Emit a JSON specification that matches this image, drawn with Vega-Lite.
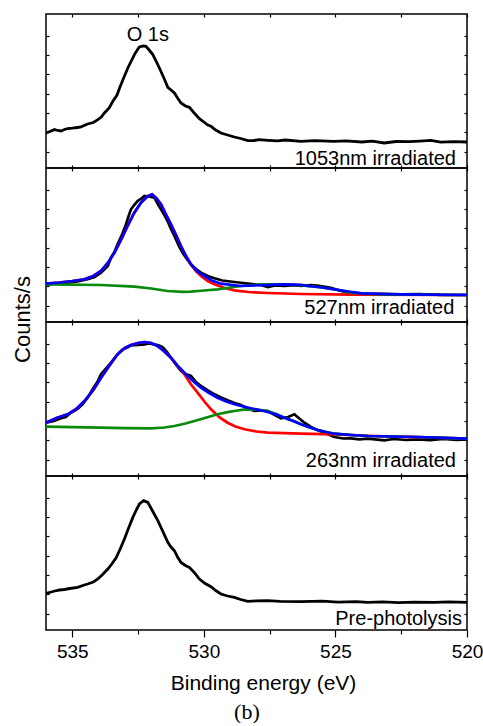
{
  "$schema": "https://vega.github.io/schema/vega-lite/v6.json",
  "padding": {"left": 10, "top": 12, "right": 0, "bottom": 0},
  "background": "white",
  "spacing": 0,
  "bounds": "flush",
  "config": {
    "view": {"stroke": "black", "strokeWidth": 1.5},
    "font": "Liberation Sans",
    "axis": {"domain": false, "grid": false, "tickColor": "black", "tickWidth": 1.2, "labelColor": "black", "titleColor": "black", "titleFontWeight": "normal"}
  },
  "title": {"text": "(b)", "orient": "bottom", "font": "Liberation Serif", "fontSize": 22, "fontWeight": "normal", "color": "black", "anchor": "middle", "offset": 8},
  "datasets": {
    "spectra": [
      {"p": "1053", "s": "data", "E": 536, "c": 35},
      {"p": "1053", "s": "data", "E": 535.85, "c": 36.5},
      {"p": "1053", "s": "data", "E": 535.68, "c": 38.4},
      {"p": "1053", "s": "data", "E": 535.55, "c": 37.5},
      {"p": "1053", "s": "data", "E": 535.43, "c": 37},
      {"p": "1053", "s": "data", "E": 535.3, "c": 38.5},
      {"p": "1053", "s": "data", "E": 535.18, "c": 39.4},
      {"p": "1053", "s": "data", "E": 535.0, "c": 39.8},
      {"p": "1053", "s": "data", "E": 534.8, "c": 40.5},
      {"p": "1053", "s": "data", "E": 534.67, "c": 41},
      {"p": "1053", "s": "data", "E": 534.55, "c": 42.5},
      {"p": "1053", "s": "data", "E": 534.42, "c": 44},
      {"p": "1053", "s": "data", "E": 534.2, "c": 45.5},
      {"p": "1053", "s": "data", "E": 534.03, "c": 48.4},
      {"p": "1053", "s": "data", "E": 533.9, "c": 51},
      {"p": "1053", "s": "data", "E": 533.78, "c": 55},
      {"p": "1053", "s": "data", "E": 533.6, "c": 60},
      {"p": "1053", "s": "data", "E": 533.46, "c": 66.7},
      {"p": "1053", "s": "data", "E": 533.3, "c": 73},
      {"p": "1053", "s": "data", "E": 533.21, "c": 79.4},
      {"p": "1053", "s": "data", "E": 533.05, "c": 90},
      {"p": "1053", "s": "data", "E": 532.89, "c": 100},
      {"p": "1053", "s": "data", "E": 532.75, "c": 107.5},
      {"p": "1053", "s": "data", "E": 532.64, "c": 113.4},
      {"p": "1053", "s": "data", "E": 532.52, "c": 118.5},
      {"p": "1053", "s": "data", "E": 532.45, "c": 121},
      {"p": "1053", "s": "data", "E": 532.3, "c": 122},
      {"p": "1053", "s": "data", "E": 532.2, "c": 121.7},
      {"p": "1053", "s": "data", "E": 532.08, "c": 118},
      {"p": "1053", "s": "data", "E": 531.94, "c": 113.4},
      {"p": "1053", "s": "data", "E": 531.8, "c": 106},
      {"p": "1053", "s": "data", "E": 531.69, "c": 100},
      {"p": "1053", "s": "data", "E": 531.52, "c": 90},
      {"p": "1053", "s": "data", "E": 531.37, "c": 80.7},
      {"p": "1053", "s": "data", "E": 531.25, "c": 78},
      {"p": "1053", "s": "data", "E": 531.12, "c": 75},
      {"p": "1053", "s": "data", "E": 531.0, "c": 70},
      {"p": "1053", "s": "data", "E": 530.87, "c": 65},
      {"p": "1053", "s": "data", "E": 530.7, "c": 62},
      {"p": "1053", "s": "data", "E": 530.55, "c": 60.7},
      {"p": "1053", "s": "data", "E": 530.4, "c": 56},
      {"p": "1053", "s": "data", "E": 530.17, "c": 49.4},
      {"p": "1053", "s": "data", "E": 530.0, "c": 46},
      {"p": "1053", "s": "data", "E": 529.85, "c": 43},
      {"p": "1053", "s": "data", "E": 529.73, "c": 41.7},
      {"p": "1053", "s": "data", "E": 529.55, "c": 38},
      {"p": "1053", "s": "data", "E": 529.35, "c": 35},
      {"p": "1053", "s": "data", "E": 529.1, "c": 33},
      {"p": "1053", "s": "data", "E": 528.84, "c": 31},
      {"p": "1053", "s": "data", "E": 528.6, "c": 29.5},
      {"p": "1053", "s": "data", "E": 528.33, "c": 27.4},
      {"p": "1053", "s": "data", "E": 528.1, "c": 27.5},
      {"p": "1053", "s": "data", "E": 527.9, "c": 28.3},
      {"p": "1053", "s": "data", "E": 527.57, "c": 27.7},
      {"p": "1053", "s": "data", "E": 527.2, "c": 27.2},
      {"p": "1053", "s": "data", "E": 526.9, "c": 28},
      {"p": "1053", "s": "data", "E": 526.31, "c": 26.7},
      {"p": "1053", "s": "data", "E": 525.8, "c": 27.3},
      {"p": "1053", "s": "data", "E": 525.05, "c": 26.7},
      {"p": "1053", "s": "data", "E": 524.6, "c": 27.2},
      {"p": "1053", "s": "data", "E": 524.0, "c": 26},
      {"p": "1053", "s": "data", "E": 523.6, "c": 26.8},
      {"p": "1053", "s": "data", "E": 523.15, "c": 25},
      {"p": "1053", "s": "data", "E": 522.7, "c": 26.5},
      {"p": "1053", "s": "data", "E": 522.2, "c": 26.3},
      {"p": "1053", "s": "data", "E": 521.8, "c": 26.9},
      {"p": "1053", "s": "data", "E": 521.37, "c": 27.6},
      {"p": "1053", "s": "data", "E": 521.0, "c": 25.8},
      {"p": "1053", "s": "data", "E": 520.5, "c": 26.4},
      {"p": "1053", "s": "data", "E": 520, "c": 26},

      {"p": "527", "s": "data", "E": 536, "c": 37.7},
      {"p": "527", "s": "data", "E": 535.5, "c": 38.6},
      {"p": "527", "s": "data", "E": 535.18, "c": 39.3},
      {"p": "527", "s": "data", "E": 534.8, "c": 40.5},
      {"p": "527", "s": "data", "E": 534.42, "c": 42.7},
      {"p": "527", "s": "data", "E": 534.15, "c": 45},
      {"p": "527", "s": "data", "E": 533.91, "c": 49.3},
      {"p": "527", "s": "data", "E": 533.65, "c": 56},
      {"p": "527", "s": "data", "E": 533.53, "c": 64.3},
      {"p": "527", "s": "data", "E": 533.4, "c": 70},
      {"p": "527", "s": "data", "E": 533.28, "c": 77.7},
      {"p": "527", "s": "data", "E": 533.1, "c": 88},
      {"p": "527", "s": "data", "E": 532.96, "c": 97.7},
      {"p": "527", "s": "data", "E": 532.86, "c": 106},
      {"p": "527", "s": "data", "E": 532.77, "c": 112.7},
      {"p": "527", "s": "data", "E": 532.65, "c": 117},
      {"p": "527", "s": "data", "E": 532.52, "c": 121},
      {"p": "527", "s": "data", "E": 532.35, "c": 124},
      {"p": "527", "s": "data", "E": 532.26, "c": 126},
      {"p": "527", "s": "data", "E": 532.1, "c": 125.5},
      {"p": "527", "s": "data", "E": 531.88, "c": 124.3},
      {"p": "527", "s": "data", "E": 531.75, "c": 118},
      {"p": "527", "s": "data", "E": 531.63, "c": 112.7},
      {"p": "527", "s": "data", "E": 531.5, "c": 107},
      {"p": "527", "s": "data", "E": 531.38, "c": 101},
      {"p": "527", "s": "data", "E": 531.25, "c": 93},
      {"p": "527", "s": "data", "E": 531.12, "c": 86},
      {"p": "527", "s": "data", "E": 530.95, "c": 76},
      {"p": "527", "s": "data", "E": 530.81, "c": 69.3},
      {"p": "527", "s": "data", "E": 530.65, "c": 63},
      {"p": "527", "s": "data", "E": 530.49, "c": 57.7},
      {"p": "527", "s": "data", "E": 530.3, "c": 53},
      {"p": "527", "s": "data", "E": 530.11, "c": 49.3},
      {"p": "527", "s": "data", "E": 529.85, "c": 46},
      {"p": "527", "s": "data", "E": 529.6, "c": 43.7},
      {"p": "527", "s": "data", "E": 529.3, "c": 41.5},
      {"p": "527", "s": "data", "E": 528.84, "c": 40},
      {"p": "527", "s": "data", "E": 528.5, "c": 39},
      {"p": "527", "s": "data", "E": 528.08, "c": 37.7},
      {"p": "527", "s": "data", "E": 527.8, "c": 36.8},
      {"p": "527", "s": "data", "E": 527.57, "c": 35},
      {"p": "527", "s": "data", "E": 527.3, "c": 36.5},
      {"p": "527", "s": "data", "E": 526.94, "c": 36},
      {"p": "527", "s": "data", "E": 526.6, "c": 36.8},
      {"p": "527", "s": "data", "E": 526.3, "c": 36},
      {"p": "527", "s": "data", "E": 525.93, "c": 37},
      {"p": "527", "s": "data", "E": 525.7, "c": 36.4},
      {"p": "527", "s": "data", "E": 525.45, "c": 35.5},
      {"p": "527", "s": "data", "E": 525.17, "c": 34.3},
      {"p": "527", "s": "data", "E": 524.85, "c": 31.5},
      {"p": "527", "s": "data", "E": 524.53, "c": 29.3},
      {"p": "527", "s": "data", "E": 524.2, "c": 28.8},
      {"p": "527", "s": "data", "E": 523.77, "c": 28.3},
      {"p": "527", "s": "data", "E": 523.3, "c": 28.1},
      {"p": "527", "s": "data", "E": 522.51, "c": 27.7},
      {"p": "527", "s": "data", "E": 521.8, "c": 27.9},
      {"p": "527", "s": "data", "E": 521.0, "c": 27.2},
      {"p": "527", "s": "data", "E": 520, "c": 27},

      {"p": "527", "s": "peak1", "E": 536, "c": 38.3},
      {"p": "527", "s": "peak1", "E": 535.5, "c": 39.5},
      {"p": "527", "s": "peak1", "E": 535.0, "c": 41},
      {"p": "527", "s": "peak1", "E": 534.54, "c": 42.7},
      {"p": "527", "s": "peak1", "E": 534.2, "c": 46},
      {"p": "527", "s": "peak1", "E": 533.91, "c": 51},
      {"p": "527", "s": "peak1", "E": 533.65, "c": 59},
      {"p": "527", "s": "peak1", "E": 533.4, "c": 69.3},
      {"p": "527", "s": "peak1", "E": 533.15, "c": 82},
      {"p": "527", "s": "peak1", "E": 532.9, "c": 96},
      {"p": "527", "s": "peak1", "E": 532.65, "c": 109},
      {"p": "527", "s": "peak1", "E": 532.39, "c": 119.3},
      {"p": "527", "s": "peak1", "E": 532.15, "c": 125.5},
      {"p": "527", "s": "peak1", "E": 531.97, "c": 127.7},
      {"p": "527", "s": "peak1", "E": 531.8, "c": 123.5},
      {"p": "527", "s": "peak1", "E": 531.63, "c": 117.7},
      {"p": "527", "s": "peak1", "E": 531.45, "c": 108},
      {"p": "527", "s": "peak1", "E": 531.25, "c": 97.7},
      {"p": "527", "s": "peak1", "E": 531.05, "c": 86.5},
      {"p": "527", "s": "peak1", "E": 530.87, "c": 76},
      {"p": "527", "s": "peak1", "E": 530.68, "c": 66},
      {"p": "527", "s": "peak1", "E": 530.49, "c": 57},
      {"p": "527", "s": "peak1", "E": 530.3, "c": 51},
      {"p": "527", "s": "peak1", "E": 530.11, "c": 46},
      {"p": "527", "s": "peak1", "E": 529.85, "c": 41},
      {"p": "527", "s": "peak1", "E": 529.6, "c": 37.7},
      {"p": "527", "s": "peak1", "E": 529.2, "c": 34},
      {"p": "527", "s": "peak1", "E": 528.84, "c": 31.7},
      {"p": "527", "s": "peak1", "E": 528.3, "c": 30},
      {"p": "527", "s": "peak1", "E": 527.57, "c": 29},
      {"p": "527", "s": "peak1", "E": 526.31, "c": 28},
      {"p": "527", "s": "peak1", "E": 524.41, "c": 27.3},
      {"p": "527", "s": "peak1", "E": 520, "c": 27},

      {"p": "527", "s": "peak2", "E": 536, "c": 37.7},
      {"p": "527", "s": "peak2", "E": 533.91, "c": 37},
      {"p": "527", "s": "peak2", "E": 532.64, "c": 35.3},
      {"p": "527", "s": "peak2", "E": 532.0, "c": 33.5},
      {"p": "527", "s": "peak2", "E": 531.38, "c": 31},
      {"p": "527", "s": "peak2", "E": 530.8, "c": 30.2},
      {"p": "527", "s": "peak2", "E": 530.49, "c": 30.3},
      {"p": "527", "s": "peak2", "E": 530.0, "c": 31.5},
      {"p": "527", "s": "peak2", "E": 529.48, "c": 32.7},
      {"p": "527", "s": "peak2", "E": 529.0, "c": 34.5},
      {"p": "527", "s": "peak2", "E": 528.59, "c": 36},
      {"p": "527", "s": "peak2", "E": 528.0, "c": 37.3},
      {"p": "527", "s": "peak2", "E": 527.57, "c": 37.7},
      {"p": "527", "s": "peak2", "E": 526.81, "c": 37.7},
      {"p": "527", "s": "peak2", "E": 526.3, "c": 36.6},
      {"p": "527", "s": "peak2", "E": 525.67, "c": 35},
      {"p": "527", "s": "peak2", "E": 525.0, "c": 32.5},
      {"p": "527", "s": "peak2", "E": 524.41, "c": 29.3},
      {"p": "527", "s": "peak2", "E": 523.8, "c": 28.2},
      {"p": "527", "s": "peak2", "E": 523.14, "c": 27.7},
      {"p": "527", "s": "peak2", "E": 520, "c": 27},

      {"p": "527", "s": "fit", "E": 536, "c": 38.3},
      {"p": "527", "s": "fit", "E": 535.5, "c": 39.5},
      {"p": "527", "s": "fit", "E": 535.0, "c": 41},
      {"p": "527", "s": "fit", "E": 534.54, "c": 42.7},
      {"p": "527", "s": "fit", "E": 534.2, "c": 46},
      {"p": "527", "s": "fit", "E": 533.91, "c": 51},
      {"p": "527", "s": "fit", "E": 533.65, "c": 59},
      {"p": "527", "s": "fit", "E": 533.4, "c": 69.3},
      {"p": "527", "s": "fit", "E": 533.15, "c": 82},
      {"p": "527", "s": "fit", "E": 532.9, "c": 96},
      {"p": "527", "s": "fit", "E": 532.65, "c": 109},
      {"p": "527", "s": "fit", "E": 532.39, "c": 119.3},
      {"p": "527", "s": "fit", "E": 532.15, "c": 125.5},
      {"p": "527", "s": "fit", "E": 531.97, "c": 127.7},
      {"p": "527", "s": "fit", "E": 531.8, "c": 123.5},
      {"p": "527", "s": "fit", "E": 531.63, "c": 117.7},
      {"p": "527", "s": "fit", "E": 531.45, "c": 108},
      {"p": "527", "s": "fit", "E": 531.25, "c": 97.7},
      {"p": "527", "s": "fit", "E": 531.05, "c": 86.5},
      {"p": "527", "s": "fit", "E": 530.87, "c": 76},
      {"p": "527", "s": "fit", "E": 530.68, "c": 66},
      {"p": "527", "s": "fit", "E": 530.49, "c": 57.7},
      {"p": "527", "s": "fit", "E": 530.25, "c": 50.5},
      {"p": "527", "s": "fit", "E": 529.98, "c": 46},
      {"p": "527", "s": "fit", "E": 529.7, "c": 41.5},
      {"p": "527", "s": "fit", "E": 529.35, "c": 38.3},
      {"p": "527", "s": "fit", "E": 528.6, "c": 36},
      {"p": "527", "s": "fit", "E": 527.57, "c": 37},
      {"p": "527", "s": "fit", "E": 526.94, "c": 37.7},
      {"p": "527", "s": "fit", "E": 526.3, "c": 37.2},
      {"p": "527", "s": "fit", "E": 526.05, "c": 36},
      {"p": "527", "s": "fit", "E": 525.5, "c": 34.5},
      {"p": "527", "s": "fit", "E": 525.04, "c": 32.7},
      {"p": "527", "s": "fit", "E": 524.5, "c": 30.5},
      {"p": "527", "s": "fit", "E": 524.03, "c": 28.7},
      {"p": "527", "s": "fit", "E": 523.0, "c": 27.9},
      {"p": "527", "s": "fit", "E": 522.51, "c": 27.7},
      {"p": "527", "s": "fit", "E": 520, "c": 27},

      {"p": "263", "s": "data", "E": 536, "c": 53.3},
      {"p": "263", "s": "data", "E": 535.7, "c": 55},
      {"p": "263", "s": "data", "E": 535.43, "c": 57.7},
      {"p": "263", "s": "data", "E": 535.25, "c": 59},
      {"p": "263", "s": "data", "E": 535.05, "c": 63.3},
      {"p": "263", "s": "data", "E": 534.8, "c": 67},
      {"p": "263", "s": "data", "E": 534.61, "c": 71.7},
      {"p": "263", "s": "data", "E": 534.4, "c": 79},
      {"p": "263", "s": "data", "E": 534.23, "c": 86.7},
      {"p": "263", "s": "data", "E": 534.05, "c": 94},
      {"p": "263", "s": "data", "E": 533.91, "c": 101.7},
      {"p": "263", "s": "data", "E": 533.7, "c": 108},
      {"p": "263", "s": "data", "E": 533.53, "c": 113.3},
      {"p": "263", "s": "data", "E": 533.3, "c": 121},
      {"p": "263", "s": "data", "E": 533.09, "c": 126.7},
      {"p": "263", "s": "data", "E": 532.9, "c": 128.5},
      {"p": "263", "s": "data", "E": 532.77, "c": 130.7},
      {"p": "263", "s": "data", "E": 532.5, "c": 131},
      {"p": "263", "s": "data", "E": 532.26, "c": 131.7},
      {"p": "263", "s": "data", "E": 532.1, "c": 132.5},
      {"p": "263", "s": "data", "E": 531.88, "c": 131.7},
      {"p": "263", "s": "data", "E": 531.7, "c": 130.5},
      {"p": "263", "s": "data", "E": 531.57, "c": 129},
      {"p": "263", "s": "data", "E": 531.4, "c": 124},
      {"p": "263", "s": "data", "E": 531.25, "c": 118.3},
      {"p": "263", "s": "data", "E": 531.05, "c": 111},
      {"p": "263", "s": "data", "E": 530.87, "c": 105},
      {"p": "263", "s": "data", "E": 530.7, "c": 102},
      {"p": "263", "s": "data", "E": 530.49, "c": 100},
      {"p": "263", "s": "data", "E": 530.3, "c": 94},
      {"p": "263", "s": "data", "E": 530.11, "c": 90},
      {"p": "263", "s": "data", "E": 529.85, "c": 85.5},
      {"p": "263", "s": "data", "E": 529.6, "c": 81.7},
      {"p": "263", "s": "data", "E": 529.35, "c": 78.5},
      {"p": "263", "s": "data", "E": 529.1, "c": 75.7},
      {"p": "263", "s": "data", "E": 528.84, "c": 73},
      {"p": "263", "s": "data", "E": 528.59, "c": 71},
      {"p": "263", "s": "data", "E": 528.3, "c": 67},
      {"p": "263", "s": "data", "E": 528.08, "c": 65},
      {"p": "263", "s": "data", "E": 527.8, "c": 65.5},
      {"p": "263", "s": "data", "E": 527.57, "c": 65},
      {"p": "263", "s": "data", "E": 527.3, "c": 61},
      {"p": "263", "s": "data", "E": 527.07, "c": 57.7},
      {"p": "263", "s": "data", "E": 526.8, "c": 59},
      {"p": "263", "s": "data", "E": 526.56, "c": 61.7},
      {"p": "263", "s": "data", "E": 526.35, "c": 57},
      {"p": "263", "s": "data", "E": 526.18, "c": 53.3},
      {"p": "263", "s": "data", "E": 525.93, "c": 49},
      {"p": "263", "s": "data", "E": 525.67, "c": 45.7},
      {"p": "263", "s": "data", "E": 525.3, "c": 42},
      {"p": "263", "s": "data", "E": 525.04, "c": 39},
      {"p": "263", "s": "data", "E": 524.7, "c": 37.5},
      {"p": "263", "s": "data", "E": 524.41, "c": 37.7},
      {"p": "263", "s": "data", "E": 524.1, "c": 36.6},
      {"p": "263", "s": "data", "E": 523.77, "c": 37.4},
      {"p": "263", "s": "data", "E": 523.14, "c": 35.7},
      {"p": "263", "s": "data", "E": 522.8, "c": 37},
      {"p": "263", "s": "data", "E": 522.3, "c": 36},
      {"p": "263", "s": "data", "E": 521.87, "c": 36.7},
      {"p": "263", "s": "data", "E": 521.4, "c": 35.8},
      {"p": "263", "s": "data", "E": 520.9, "c": 37},
      {"p": "263", "s": "data", "E": 520.4, "c": 36},
      {"p": "263", "s": "data", "E": 520, "c": 36.7},

      {"p": "263", "s": "peak1", "E": 536, "c": 53.3},
      {"p": "263", "s": "peak1", "E": 535.6, "c": 58},
      {"p": "263", "s": "peak1", "E": 535.18, "c": 61.7},
      {"p": "263", "s": "peak1", "E": 534.85, "c": 67},
      {"p": "263", "s": "peak1", "E": 534.54, "c": 75},
      {"p": "263", "s": "peak1", "E": 534.2, "c": 86},
      {"p": "263", "s": "peak1", "E": 533.91, "c": 98.3},
      {"p": "263", "s": "peak1", "E": 533.6, "c": 110},
      {"p": "263", "s": "peak1", "E": 533.28, "c": 121.7},
      {"p": "263", "s": "peak1", "E": 533.0, "c": 128},
      {"p": "263", "s": "peak1", "E": 532.77, "c": 131},
      {"p": "263", "s": "peak1", "E": 532.5, "c": 133},
      {"p": "263", "s": "peak1", "E": 532.26, "c": 134},
      {"p": "263", "s": "peak1", "E": 532.0, "c": 133},
      {"p": "263", "s": "peak1", "E": 531.76, "c": 130},
      {"p": "263", "s": "peak1", "E": 531.5, "c": 124.5},
      {"p": "263", "s": "peak1", "E": 531.25, "c": 118.3},
      {"p": "263", "s": "peak1", "E": 531.0, "c": 110},
      {"p": "263", "s": "peak1", "E": 530.74, "c": 101.7},
      {"p": "263", "s": "peak1", "E": 530.5, "c": 92},
      {"p": "263", "s": "peak1", "E": 530.24, "c": 83.3},
      {"p": "263", "s": "peak1", "E": 529.98, "c": 74.5},
      {"p": "263", "s": "peak1", "E": 529.73, "c": 66.7},
      {"p": "263", "s": "peak1", "E": 529.4, "c": 58.5},
      {"p": "263", "s": "peak1", "E": 529.1, "c": 53.3},
      {"p": "263", "s": "peak1", "E": 528.8, "c": 49.5},
      {"p": "263", "s": "peak1", "E": 528.46, "c": 46.7},
      {"p": "263", "s": "peak1", "E": 528.0, "c": 44.5},
      {"p": "263", "s": "peak1", "E": 527.57, "c": 43.3},
      {"p": "263", "s": "peak1", "E": 526.31, "c": 42.3},
      {"p": "263", "s": "peak1", "E": 525.04, "c": 41.7},
      {"p": "263", "s": "peak1", "E": 523.5, "c": 40},
      {"p": "263", "s": "peak1", "E": 522, "c": 38.8},
      {"p": "263", "s": "peak1", "E": 520, "c": 37.3},

      {"p": "263", "s": "peak2", "E": 536, "c": 49.3},
      {"p": "263", "s": "peak2", "E": 534.5, "c": 48.6},
      {"p": "263", "s": "peak2", "E": 533.91, "c": 48.3},
      {"p": "263", "s": "peak2", "E": 533.0, "c": 47.8},
      {"p": "263", "s": "peak2", "E": 532.01, "c": 47.7},
      {"p": "263", "s": "peak2", "E": 531.5, "c": 48.5},
      {"p": "263", "s": "peak2", "E": 531.12, "c": 50},
      {"p": "263", "s": "peak2", "E": 530.7, "c": 52.5},
      {"p": "263", "s": "peak2", "E": 530.36, "c": 55},
      {"p": "263", "s": "peak2", "E": 529.9, "c": 58.5},
      {"p": "263", "s": "peak2", "E": 529.48, "c": 61.7},
      {"p": "263", "s": "peak2", "E": 529.1, "c": 63.8},
      {"p": "263", "s": "peak2", "E": 528.84, "c": 65},
      {"p": "263", "s": "peak2", "E": 528.5, "c": 66.3},
      {"p": "263", "s": "peak2", "E": 528.21, "c": 66.7},
      {"p": "263", "s": "peak2", "E": 527.9, "c": 66.2},
      {"p": "263", "s": "peak2", "E": 527.57, "c": 65},
      {"p": "263", "s": "peak2", "E": 527.25, "c": 62},
      {"p": "263", "s": "peak2", "E": 526.94, "c": 58.3},
      {"p": "263", "s": "peak2", "E": 526.6, "c": 55},
      {"p": "263", "s": "peak2", "E": 526.31, "c": 51.7},
      {"p": "263", "s": "peak2", "E": 526.0, "c": 48.8},
      {"p": "263", "s": "peak2", "E": 525.67, "c": 46},
      {"p": "263", "s": "peak2", "E": 525.35, "c": 44},
      {"p": "263", "s": "peak2", "E": 525.04, "c": 42.3},
      {"p": "263", "s": "peak2", "E": 524.4, "c": 41},
      {"p": "263", "s": "peak2", "E": 523.77, "c": 40},
      {"p": "263", "s": "peak2", "E": 522.8, "c": 39.5},
      {"p": "263", "s": "peak2", "E": 521.87, "c": 39},
      {"p": "263", "s": "peak2", "E": 520.9, "c": 38.2},
      {"p": "263", "s": "peak2", "E": 520, "c": 37.3},

      {"p": "263", "s": "fit", "E": 536, "c": 53.3},
      {"p": "263", "s": "fit", "E": 535.6, "c": 58},
      {"p": "263", "s": "fit", "E": 535.18, "c": 61.7},
      {"p": "263", "s": "fit", "E": 534.85, "c": 67},
      {"p": "263", "s": "fit", "E": 534.54, "c": 75},
      {"p": "263", "s": "fit", "E": 534.2, "c": 86},
      {"p": "263", "s": "fit", "E": 533.91, "c": 98.3},
      {"p": "263", "s": "fit", "E": 533.6, "c": 110},
      {"p": "263", "s": "fit", "E": 533.28, "c": 121.7},
      {"p": "263", "s": "fit", "E": 533.0, "c": 128},
      {"p": "263", "s": "fit", "E": 532.77, "c": 131},
      {"p": "263", "s": "fit", "E": 532.5, "c": 133},
      {"p": "263", "s": "fit", "E": 532.26, "c": 134},
      {"p": "263", "s": "fit", "E": 532.0, "c": 133},
      {"p": "263", "s": "fit", "E": 531.76, "c": 130},
      {"p": "263", "s": "fit", "E": 531.5, "c": 124.5},
      {"p": "263", "s": "fit", "E": 531.25, "c": 118.3},
      {"p": "263", "s": "fit", "E": 530.95, "c": 109},
      {"p": "263", "s": "fit", "E": 530.62, "c": 100},
      {"p": "263", "s": "fit", "E": 530.35, "c": 93.5},
      {"p": "263", "s": "fit", "E": 530.11, "c": 88.3},
      {"p": "263", "s": "fit", "E": 529.8, "c": 83},
      {"p": "263", "s": "fit", "E": 529.48, "c": 78.3},
      {"p": "263", "s": "fit", "E": 529.15, "c": 74.5},
      {"p": "263", "s": "fit", "E": 528.84, "c": 71.7},
      {"p": "263", "s": "fit", "E": 528.5, "c": 69.5},
      {"p": "263", "s": "fit", "E": 528.21, "c": 67.7},
      {"p": "263", "s": "fit", "E": 527.9, "c": 66},
      {"p": "263", "s": "fit", "E": 527.57, "c": 64},
      {"p": "263", "s": "fit", "E": 527.25, "c": 61.5},
      {"p": "263", "s": "fit", "E": 526.94, "c": 58.3},
      {"p": "263", "s": "fit", "E": 526.6, "c": 55},
      {"p": "263", "s": "fit", "E": 526.31, "c": 51.7},
      {"p": "263", "s": "fit", "E": 526.0, "c": 48.8},
      {"p": "263", "s": "fit", "E": 525.67, "c": 46},
      {"p": "263", "s": "fit", "E": 525.35, "c": 44},
      {"p": "263", "s": "fit", "E": 525.04, "c": 42.3},
      {"p": "263", "s": "fit", "E": 524.4, "c": 41},
      {"p": "263", "s": "fit", "E": 523.77, "c": 40},
      {"p": "263", "s": "fit", "E": 522.8, "c": 39.5},
      {"p": "263", "s": "fit", "E": 521.87, "c": 39},
      {"p": "263", "s": "fit", "E": 520.9, "c": 38.2},
      {"p": "263", "s": "fit", "E": 520, "c": 37.3},

      {"p": "pre", "s": "data", "E": 536, "c": 36.6},
      {"p": "pre", "s": "data", "E": 535.8, "c": 38},
      {"p": "pre", "s": "data", "E": 535.6, "c": 39.5},
      {"p": "pre", "s": "data", "E": 535.49, "c": 40},
      {"p": "pre", "s": "data", "E": 535.3, "c": 40.5},
      {"p": "pre", "s": "data", "E": 535.1, "c": 41.5},
      {"p": "pre", "s": "data", "E": 534.8, "c": 42.6},
      {"p": "pre", "s": "data", "E": 534.6, "c": 44.5},
      {"p": "pre", "s": "data", "E": 534.42, "c": 46},
      {"p": "pre", "s": "data", "E": 534.2, "c": 48},
      {"p": "pre", "s": "data", "E": 534.03, "c": 51},
      {"p": "pre", "s": "data", "E": 533.85, "c": 55.5},
      {"p": "pre", "s": "data", "E": 533.65, "c": 61},
      {"p": "pre", "s": "data", "E": 533.5, "c": 66},
      {"p": "pre", "s": "data", "E": 533.34, "c": 72},
      {"p": "pre", "s": "data", "E": 533.18, "c": 81},
      {"p": "pre", "s": "data", "E": 533.02, "c": 91},
      {"p": "pre", "s": "data", "E": 532.86, "c": 102},
      {"p": "pre", "s": "data", "E": 532.7, "c": 112.6},
      {"p": "pre", "s": "data", "E": 532.55, "c": 121},
      {"p": "pre", "s": "data", "E": 532.45, "c": 126},
      {"p": "pre", "s": "data", "E": 532.29, "c": 129.3},
      {"p": "pre", "s": "data", "E": 532.13, "c": 127.6},
      {"p": "pre", "s": "data", "E": 531.95, "c": 119},
      {"p": "pre", "s": "data", "E": 531.75, "c": 109.3},
      {"p": "pre", "s": "data", "E": 531.55, "c": 98},
      {"p": "pre", "s": "data", "E": 531.37, "c": 87.6},
      {"p": "pre", "s": "data", "E": 531.25, "c": 83},
      {"p": "pre", "s": "data", "E": 531.12, "c": 79.3},
      {"p": "pre", "s": "data", "E": 531.0, "c": 73},
      {"p": "pre", "s": "data", "E": 530.87, "c": 67.6},
      {"p": "pre", "s": "data", "E": 530.7, "c": 64.5},
      {"p": "pre", "s": "data", "E": 530.55, "c": 62.6},
      {"p": "pre", "s": "data", "E": 530.35, "c": 57},
      {"p": "pre", "s": "data", "E": 530.17, "c": 51},
      {"p": "pre", "s": "data", "E": 529.95, "c": 46.5},
      {"p": "pre", "s": "data", "E": 529.73, "c": 43.3},
      {"p": "pre", "s": "data", "E": 529.55, "c": 39.5},
      {"p": "pre", "s": "data", "E": 529.35, "c": 36},
      {"p": "pre", "s": "data", "E": 529.1, "c": 34},
      {"p": "pre", "s": "data", "E": 528.84, "c": 32.6},
      {"p": "pre", "s": "data", "E": 528.6, "c": 30.5},
      {"p": "pre", "s": "data", "E": 528.33, "c": 28.6},
      {"p": "pre", "s": "data", "E": 528.0, "c": 29.2},
      {"p": "pre", "s": "data", "E": 527.57, "c": 29.3},
      {"p": "pre", "s": "data", "E": 527.1, "c": 28.6},
      {"p": "pre", "s": "data", "E": 526.31, "c": 28.3},
      {"p": "pre", "s": "data", "E": 525.5, "c": 28.8},
      {"p": "pre", "s": "data", "E": 524.9, "c": 27.8},
      {"p": "pre", "s": "data", "E": 524.2, "c": 28.4},
      {"p": "pre", "s": "data", "E": 523.77, "c": 27.6},
      {"p": "pre", "s": "data", "E": 523.2, "c": 28.2},
      {"p": "pre", "s": "data", "E": 522.6, "c": 27.3},
      {"p": "pre", "s": "data", "E": 522.0, "c": 27.9},
      {"p": "pre", "s": "data", "E": 521.24, "c": 27.6},
      {"p": "pre", "s": "data", "E": 520.7, "c": 28.2},
      {"p": "pre", "s": "data", "E": 520, "c": 27.6}
    ]
  },
  "vconcat": [
    {
      "width": 421, "height": 154,
      "data": {"name": "spectra"},
      "transform": [{"filter": "datum.p === '1053'"}],
      "layer": [
        {
          "mark": {"type": "line", "strokeWidth": 2.8},
          "encoding": {
            "x": {"field": "E", "type": "quantitative", "scale": {"domain": [520, 536], "reverse": true, "nice": false, "zero": false},
                  "axis": {"orient": "bottom", "values": [535, 532.5, 530, 527.5, 525, 522.5, 520], "tickSize": -3, "labels": false, "title": null}},
            "y": {"field": "c", "type": "quantitative", "scale": {"domain": [0, 154], "nice": false, "zero": false},
                  "axis": {"orient": "left", "values": [16.5, 35.8, 55.1, 74.4, 93.7, 113, 132.3], "tickSize": -3, "labels": false, "title": null}},
            "color": {"field": "s", "type": "nominal", "scale": {"domain": ["data", "peak1", "peak2", "fit"], "range": ["#000000", "#ff0000", "#0a8a0a", "#0000ff"]}, "legend": null}
          }
        },
        {
          "data": {"values": [{}]},
          "mark": {"type": "text", "align": "right", "baseline": "alphabetic", "fontSize": 20, "color": "black"},
          "encoding": {
            "x": {"datum": 520.42, "type": "quantitative", "axis": {"orient": "top", "values": [535, 532.5, 530, 527.5, 525, 522.5, 520], "tickSize": -3, "labels": false, "title": null}},
            "y": {"datum": 3.5, "type": "quantitative", "axis": {"orient": "right", "values": [16.5, 35.8, 55.1, 74.4, 93.7, 113, 132.3], "tickSize": -3, "labels": false, "title": null}},
            "text": {"value": "1053nm irradiated"}
          }
        },
        {
          "data": {"values": [{}]},
          "mark": {"type": "text", "align": "center", "baseline": "alphabetic", "fontSize": 20, "color": "black"},
          "encoding": {
            "x": {"datum": 532.13, "type": "quantitative", "axis": null},
            "y": {"datum": 127.4, "type": "quantitative", "axis": null},
            "text": {"value": "O 1s"}
          }
        }
      ],
      "resolve": {"axis": {"x": "independent", "y": "independent"}}
    },
    {
      "width": 421, "height": 154,
      "data": {"name": "spectra"},
      "transform": [{"filter": "datum.p === '527'"}],
      "layer": [
        {
          "mark": {"type": "line", "strokeWidth": 2.7},
          "encoding": {
            "x": {"field": "E", "type": "quantitative", "scale": {"domain": [520, 536], "reverse": true, "nice": false, "zero": false},
                  "axis": {"orient": "bottom", "values": [535, 532.5, 530, 527.5, 525, 522.5, 520], "tickSize": -3, "labels": false, "title": null}},
            "y": {"field": "c", "type": "quantitative", "scale": {"domain": [0, 154], "nice": false, "zero": false},
                  "axis": {"orient": "left", "values": [16.5, 35.8, 55.1, 74.4, 93.7, 113, 132.3], "tickSize": -3, "labels": false, "title": "Counts/s", "titleFontSize": 22, "titleX": -12, "titleY": 151}},
            "color": {"field": "s", "type": "nominal", "scale": {"domain": ["data", "peak1", "peak2", "fit"], "range": ["#000000", "#ff0000", "#0a8a0a", "#0000ff"]}, "legend": null}
          }
        },
        {
          "data": {"values": [{}]},
          "mark": {"type": "text", "align": "right", "baseline": "alphabetic", "fontSize": 20, "color": "black"},
          "encoding": {
            "x": {"datum": 520.48, "type": "quantitative", "axis": {"orient": "top", "values": [535, 532.5, 530, 527.5, 525, 522.5, 520], "tickSize": -3, "labels": false, "title": null}},
            "y": {"datum": 7.7, "type": "quantitative", "axis": {"orient": "right", "values": [16.5, 35.8, 55.1, 74.4, 93.7, 113, 132.3], "tickSize": -3, "labels": false, "title": null}},
            "text": {"value": "527nm irradiated"}
          }
        }
      ],
      "resolve": {"axis": {"x": "independent", "y": "independent"}}
    },
    {
      "width": 421, "height": 154,
      "data": {"name": "spectra"},
      "transform": [{"filter": "datum.p === '263'"}],
      "layer": [
        {
          "mark": {"type": "line", "strokeWidth": 2.7},
          "encoding": {
            "x": {"field": "E", "type": "quantitative", "scale": {"domain": [520, 536], "reverse": true, "nice": false, "zero": false},
                  "axis": {"orient": "bottom", "values": [535, 532.5, 530, 527.5, 525, 522.5, 520], "tickSize": -3, "labels": false, "title": null}},
            "y": {"field": "c", "type": "quantitative", "scale": {"domain": [0, 154], "nice": false, "zero": false},
                  "axis": {"orient": "left", "values": [16.5, 35.8, 55.1, 74.4, 93.7, 113, 132.3], "tickSize": -3, "labels": false, "title": null}},
            "color": {"field": "s", "type": "nominal", "scale": {"domain": ["data", "peak1", "peak2", "fit"], "range": ["#000000", "#ff0000", "#0a8a0a", "#0000ff"]}, "legend": null}
          }
        },
        {
          "data": {"values": [{}]},
          "mark": {"type": "text", "align": "right", "baseline": "alphabetic", "fontSize": 20, "color": "black"},
          "encoding": {
            "x": {"datum": 520.42, "type": "quantitative", "axis": {"orient": "top", "values": [535, 532.5, 530, 527.5, 525, 522.5, 520], "tickSize": -3, "labels": false, "title": null}},
            "y": {"datum": 9, "type": "quantitative", "axis": {"orient": "right", "values": [16.5, 35.8, 55.1, 74.4, 93.7, 113, 132.3], "tickSize": -3, "labels": false, "title": null}},
            "text": {"value": "263nm irradiated"}
          }
        }
      ],
      "resolve": {"axis": {"x": "independent", "y": "independent"}}
    },
    {
      "width": 421, "height": 154,
      "data": {"name": "spectra"},
      "transform": [{"filter": "datum.p === 'pre'"}],
      "layer": [
        {
          "mark": {"type": "line", "strokeWidth": 2.8},
          "encoding": {
            "x": {"field": "E", "type": "quantitative", "scale": {"domain": [520, 536], "reverse": true, "nice": false, "zero": false},
                  "axis": {"orient": "bottom", "values": [535, 532.5, 530, 527.5, 525, 522.5, 520], "format": "d",
                           "labelExpr": "datum.value % 5 === 0 ? datum.label : ''",
                           "tickSize": {"condition": {"test": "datum.value % 5 === 0", "value": 7}, "value": 4},
                           "labelFontSize": 19, "labelPadding": 5, "labelFlush": false,
                           "title": "Binding energy (eV)", "titleFontSize": 21, "titlePadding": 11, "titleX": 217}},
            "y": {"field": "c", "type": "quantitative", "scale": {"domain": [0, 154], "nice": false, "zero": false},
                  "axis": {"orient": "left", "values": [16.5, 35.8, 55.1, 74.4, 93.7, 113, 132.3], "tickSize": -3, "labels": false, "title": null}},
            "color": {"field": "s", "type": "nominal", "scale": {"domain": ["data", "peak1", "peak2", "fit"], "range": ["#000000", "#ff0000", "#0a8a0a", "#0000ff"]}, "legend": null}
          }
        },
        {
          "data": {"values": [{}]},
          "mark": {"type": "text", "align": "right", "baseline": "alphabetic", "fontSize": 20, "color": "black"},
          "encoding": {
            "x": {"datum": 520.19, "type": "quantitative", "axis": {"orient": "top", "values": [535, 532.5, 530, 527.5, 525, 522.5, 520], "tickSize": -3, "labels": false, "title": null}},
            "y": {"datum": 5.3, "type": "quantitative", "axis": {"orient": "right", "values": [16.5, 35.8, 55.1, 74.4, 93.7, 113, 132.3], "tickSize": -3, "labels": false, "title": null}},
            "text": {"value": "Pre-photolysis"}
          }
        }
      ],
      "resolve": {"axis": {"x": "independent", "y": "independent"}}
    }
  ]
}
